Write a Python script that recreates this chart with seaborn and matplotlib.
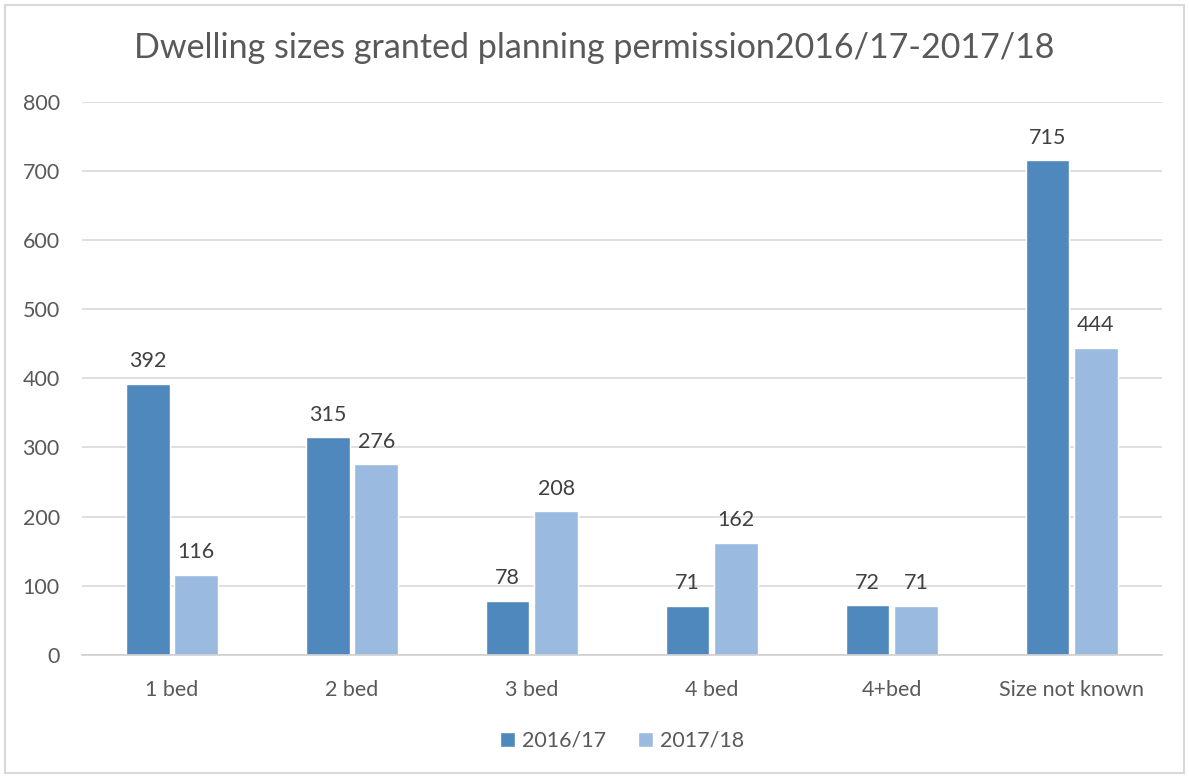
import matplotlib
matplotlib.use("Agg")
import matplotlib.pyplot as plt
import seaborn as sns
import pandas as pd
from matplotlib.patches import Rectangle

# data
categories = ["1 bed", "2 bed", "3 bed", "4 bed", "4+bed", "Size not known"]
years = ["2016/17", "2017/18"]
vals_1617 = [392, 315, 78, 71, 72, 715]
vals_1718 = [116, 276, 208, 162, 71, 444]

df = pd.DataFrame({
    "size": categories * 2,
    "year": [years[0]] * 6 + [years[1]] * 6,
    "count": vals_1617 + vals_1718,
})

sns.set_style("white")
plt.rcParams["font.family"] = ["Lato", "DejaVu Sans"]
grey = "#595959"

fig = plt.figure(figsize=(11.89, 7.76), dpi=100)
ax = fig.add_axes([0.069, 0.156, 0.908, 0.713])

sns.barplot(data=df, x="size", y="count", hue="year", order=categories,
            hue_order=years, palette=["#4F88BD", "#9BBAE0"], saturation=1,
            width=0.54, gap=0.1, ax=ax, legend=True)

for cont in ax.containers:
    ax.bar_label(cont, padding=9, fontsize=15.5, color="#404040")

ax.set_ylim(0, 800)
ax.set_yticks(range(0, 801, 100))
ax.set_xlim(-0.5, 5.5)
ax.yaxis.grid(True, color="#d9d9d9", linewidth=1.2)
ax.set_axisbelow(True)
for s in ["top", "right", "left"]:
    ax.spines[s].set_visible(False)
ax.spines["bottom"].set_color("#d0d0d0")
ax.spines["bottom"].set_linewidth(1.2)
ax.tick_params(axis="both", length=0, labelsize=15.5, colors=grey)
ax.tick_params(axis="x", pad=18)
ax.tick_params(axis="y", pad=16)
ax.set_xlabel("")
ax.set_ylabel("")

ax.legend(loc="center", bbox_to_anchor=(0.5, -0.155), ncol=2, frameon=False,
          fontsize=15.5, labelcolor=grey, handlelength=0.7, handleheight=0.7,
          handletextpad=0.3, columnspacing=1.5)

fig.text(0.5, 0.938, "Dwelling sizes granted planning permission2016/17-2017/18",
         ha="center", va="center", fontsize=24.5, color=grey)

fig.patches.append(Rectangle((0.004, 0.004), 0.992, 0.99, transform=fig.transFigure,
                             fill=False, edgecolor="#d9d9d9", linewidth=1.5))

fig.savefig("out.png", dpi=100)
